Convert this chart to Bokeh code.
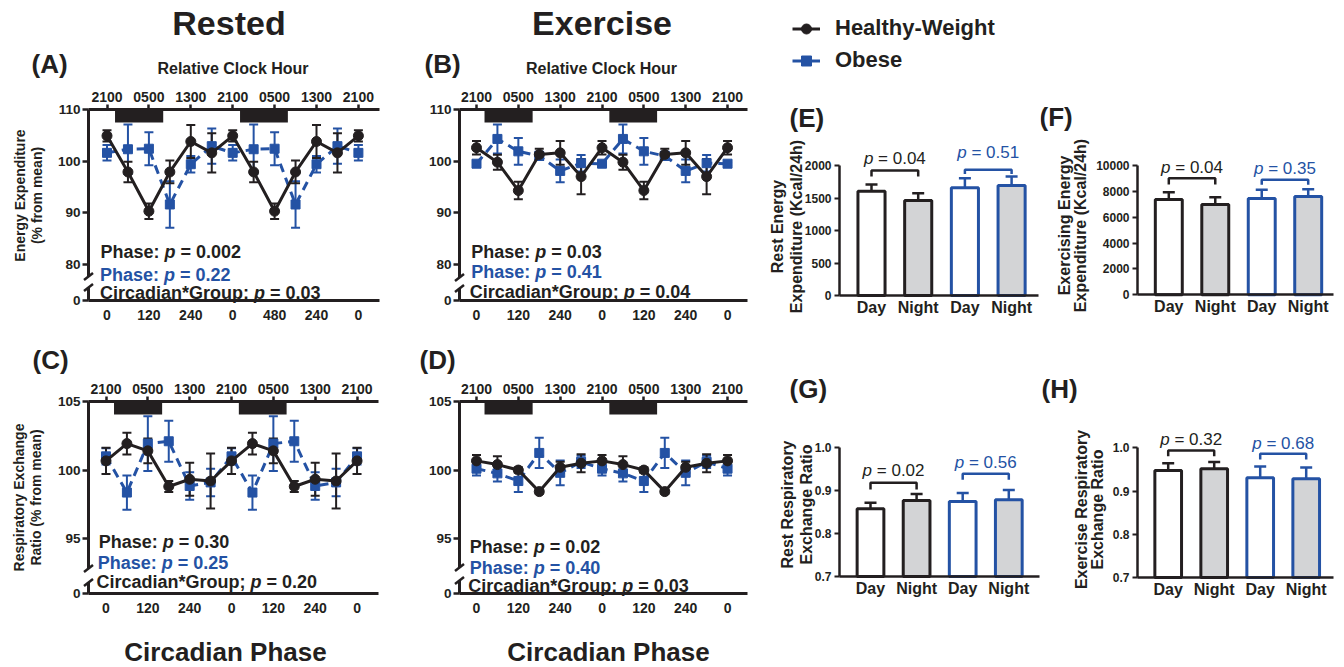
import math
from bokeh.plotting import figure
from bokeh.layouts import row, column
from bokeh.models import (ColumnDataSource, FixedTicker, Range1d, Whisker, TeeHead,
                          Label, Arrow, Legend, LegendItem, LinearAxis, PrintfTickFormatter)
from bokeh.embed import file_html
from bokeh.resources import INLINE

# ---------------- data ----------------
time_min = [0, 60, 120, 180, 240, 300, 360, 420, 480, 540, 600, 660, 720]
phase_ticks = [0, 120, 240, 360, 480, 600, 720]
top_tick_labels = ["2100", "0500", "1300", "2100", "0500", "1300", "2100"]
phase_labels_a = ["0", "120", "240", "0", "480", "240", "0"]
phase_labels = ["0", "120", "240", "0", "120", "240", "0"]
night_start = [23, 381]
night_end = [161, 518]

# (A) rested energy expenditure, % from mean
ee_rest_hw = [104.9, 97.9, 90.3, 97.9, 103.8, 101.6, 104.9, 97.9, 90.3, 97.9, 103.8, 101.6, 104.9]
ee_rest_hw_sem = [1.1, 2.0, 1.5, 2.2, 3.2, 3.8, 1.1, 2.0, 1.5, 2.2, 3.2, 3.8, 1.1]
ee_rest_ob = [101.6, 102.3, 102.4, 91.6, 99.4, 102.9, 101.6, 102.3, 102.4, 91.6, 99.4, 102.9, 101.6]
ee_rest_ob_sem = [1.5, 4.8, 3.2, 4.5, 1.6, 3.4, 1.5, 4.8, 3.2, 4.5, 1.6, 3.4, 1.5]
# (B) exercise energy expenditure
ee_ex_hw = [102.6, 99.8, 94.3, 101.3, 101.6, 97.0, 102.6, 99.8, 94.3, 101.3, 101.6, 97.0, 102.6]
ee_ex_hw_sem = [1.3, 1.45, 1.7, 1.1, 2.3, 3.4, 1.3, 1.45, 1.7, 1.1, 2.3, 3.4, 1.3]
ee_ex_ob = [99.5, 104.3, 101.9, 101.0, 98.1, 99.6, 99.5, 104.3, 101.9, 101.0, 98.1, 99.6, 99.5]
ee_ex_ob_sem = [0.3, 2.8, 2.6, 0.8, 2.2, 1.6, 0.3, 2.8, 2.6, 0.8, 2.2, 1.6, 0.3]
# (C) rested respiratory exchange ratio
rer_rest_hw = [100.67, 101.93, 101.4, 98.8, 99.33, 99.2, 100.67, 101.93, 101.4, 98.8, 99.33, 99.2, 100.67]
rer_rest_hw_sem = [0.96, 0.8, 0.9, 0.4, 1.2, 2.0, 0.96, 0.8, 0.9, 0.4, 1.2, 2.0, 0.96]
rer_rest_ob = [101.0, 98.36, 101.93, 102.1, 98.84, 99.1, 101.0, 98.36, 101.93, 102.1, 98.84, 99.1, 101.0]
rer_rest_ob_sem = [0.6, 1.25, 2.0, 1.5, 1.0, 1.0, 0.6, 1.25, 2.0, 1.5, 1.0, 1.0, 0.6]
# (D) exercise respiratory exchange ratio
rer_ex_hw = [100.67, 100.4, 100.0, 98.43, 100.2, 100.5, 100.67, 100.4, 100.0, 98.43, 100.2, 100.5, 100.67]
rer_ex_hw_sem = [0.42, 0.6, 0.2, 0.15, 0.4, 0.65, 0.42, 0.6, 0.2, 0.15, 0.4, 0.65, 0.42]
rer_ex_ob = [100.1, 99.76, 99.2, 101.25, 99.8, 100.6, 100.1, 99.76, 99.2, 101.25, 99.8, 100.6, 100.1]
rer_ex_ob_sem = [0.5, 0.6, 0.8, 1.1, 0.9, 0.45, 0.5, 0.6, 0.8, 1.1, 0.9, 0.45, 0.5]

# bar panels
conditions = ["Day", "Night", "Day", "Night"]
groups = ["Healthy-Weight", "Healthy-Weight", "Obese", "Obese"]
ree_kcal = [1605, 1462, 1656, 1692]
ree_kcal_sem = [103, 112, 149, 139]
exee_kcal = [7371, 6985, 7448, 7603]
exee_kcal_sem = [567, 567, 670, 567]
rer_rest = [0.858, 0.877, 0.875, 0.879]
rer_rest_sem = [0.014, 0.0155, 0.0195, 0.0225]
rer_ex = [0.9475, 0.9514, 0.9305, 0.9282]
rer_ex_sem = [0.017, 0.016, 0.026, 0.026]

# ---------------- styles ----------------
FONT = "Liberation Sans"
INK = "#231f20"
BLUE = "#2452a4"
GREY = "#d3d4d6"

BOLD_W = {' ': 278, '.': 278, '=': 584, 'p': 611, 'P': 667, 'h': 611, 'a': 556, 's': 556,
          'e': 556, ':': 333, 'C': 722, 'i': 278, 'r': 389, 'c': 556, 'd': 611, 'n': 611,
          '*': 389, 'G': 778, 'o': 611, 'u': 611, ';': 333}
REG_W = {' ': 278, '.': 278, '=': 584, 'p': 556}


def text_w(s, size, bold):
    tbl = BOLD_W if bold else REG_W
    return sum(tbl.get(c, 556) for c in s) * size / 1000.0


def lbl(p, x, y, text, size, color=INK, style="bold", align="left", baseline="middle",
        angle=0.0, xoff=0.0):
    p.add_layout(Label(x=x, y=y, text=text, x_offset=xoff, text_font=FONT,
                       text_font_size=f"{size}px", text_font_style=style, text_color=color,
                       text_align=align, text_baseline=baseline, angle=angle))


def style_axis(ax, size, tick_out=6, tick_w=2.5, line_w=3, standoff=3):
    ax.axis_line_color = INK
    ax.axis_line_width = line_w
    ax.major_tick_line_color = INK
    ax.major_tick_line_width = tick_w
    ax.major_tick_in = 0
    ax.major_tick_out = tick_out
    ax.minor_tick_line_color = None
    ax.major_label_text_font = FONT
    ax.major_label_text_font_style = "bold"
    ax.major_label_text_font_size = f"{size}px"
    ax.major_label_text_color = INK
    ax.major_label_standoff = standoff


def mk_fig(box, fx, fy):
    x0, y0, w, h = box
    p = figure(width=w, height=h, output_backend="svg", toolbar_location=None,
               x_range=Range1d(fx(x0), fx(x0 + w)), y_range=Range1d(fy(y0 + h), fy(y0)),
               x_axis_location=None, y_axis_location=None, min_border=0)
    p.title.visible = False
    p.outline_line_color = None
    p.xgrid.visible = False
    p.ygrid.visible = False
    p.background_fill_color = "white"
    p.border_fill_color = "white"
    return p


def mixed_text(p, x, y, parts, size, color, bold, center=False):
    """parts: list of (text, style); leading spaces are converted to offsets."""
    widths = [text_w(t, size, bold) for t, _ in parts]
    off = -sum(widths) / 2.0 if center else 0.0
    for (t, style), w in zip(parts, widths):
        stripped = t.lstrip(" ")
        lead = text_w(t[:len(t) - len(stripped)], size, bold)
        lbl(p, x, y, stripped, size, color=color, style=style, xoff=off + lead)
        off += w


def phase_panel(cfg, hw, hw_sem, ob, ob_sem, bottom_labels, stats, texts, ylab, brk):
    i0, st = cfg["idx0"], cfg["step"]
    T, Bm = cfg["top"], cfg["bottom"]
    ylo, yhi = cfg["ylo"], cfg["yhi"]
    fx = lambda px: (px - i0) / st * 60.0
    fy = lambda py: yhi - (py - T) * (yhi - ylo) / (Bm - T)
    p = mk_fig(cfg["box"], fx, fy)
    xl, xr = fx(cfg["left"]), fx(cfg["right"])

    # dark (night) periods
    p.quad(left=night_start, right=night_end, bottom=fy(T + 13), top=yhi,
           fill_color=INK, line_color=None)

    yl = LinearAxis(fixed_location=xl, bounds=(ylo, yhi), ticker=FixedTicker(ticks=cfg["yticks"]),
                    major_label_overrides={ylo: "0"})
    style_axis(yl, 13.5, tick_out=6, standoff=2)
    p.add_layout(yl, "left")

    xb = LinearAxis(fixed_location=ylo, bounds=(xl, xr), ticker=FixedTicker(ticks=phase_ticks),
                    major_label_overrides=dict(zip(phase_ticks, bottom_labels)))
    style_axis(xb, 14, tick_out=6, standoff=3)
    xb.major_tick_line_color = None
    p.add_layout(xb, "below")

    xt = LinearAxis(fixed_location=yhi, bounds=(xl, xr), ticker=FixedTicker(ticks=phase_ticks),
                    major_label_overrides=dict(zip(phase_ticks, top_tick_labels)))
    style_axis(xt, 14, tick_out=5, standoff=3)
    p.add_layout(xt, "above")

    for vals, sems, col, marker, dash, size in ((ob, ob_sem, BLUE, "square", "9 6", 9),
                                                (hw, hw_sem, INK, "circle", "solid", 10)):
        src = ColumnDataSource(dict(x=time_min, y=vals,
                                    lo=[v - e for v, e in zip(vals, sems)],
                                    hi=[v + e for v, e in zip(vals, sems)]))
        p.line("x", "y", source=src, line_color=col, line_width=3, line_dash=dash)
        p.scatter("x", "y", source=src, marker=marker, size=size, fill_color=col, line_color=col)
        p.add_layout(Whisker(source=src, base="x", lower="lo", upper="hi", line_color=col,
                             line_width=2,
                             upper_head=TeeHead(size=9, line_color=col, line_width=2),
                             lower_head=TeeHead(size=9, line_color=col, line_width=2)))

    # axis break marks
    ax_x = cfg["left"]
    y1p, y2p = brk
    p.add_layout(Arrow(x_start=xl, y_start=fy(y1p), x_end=xl, y_end=fy(y2p),
                       end=None, line_color="white", line_width=7))
    for yp in (y1p, y2p):
        p.add_layout(Arrow(x_start=fx(ax_x - 4.5), y_start=fy(yp + 3.5), x_end=fx(ax_x + 4.5),
                           y_end=fy(yp - 3.5), end=None, line_color=INK, line_width=2.5))

    # statistics text
    for left_px, y_px, col, prefix, pval in stats:
        mixed_text(p, fx(left_px), fy(y_px),
                   [(prefix, "bold"), ("p", "bold italic"), (" = " + pval, "bold")],
                   18, col, True)

    for text, xp, yp, size, align in texts:
        lbl(p, fx(xp), fy(yp), text, size, align=align)

    for text, xp, yp in ylab:
        lbl(p, fx(xp), fy(yp), text, 14, align="center", angle=math.pi / 2)
    return p


def bar_panel(cfg, vals, sems, brackets, ylab, texts, fmt=None):
    i0, st = cfg["idx0"], cfg["step"]
    ylo = cfg["ylo"]
    bpx = cfg["bottom"]
    rv, rp = cfg["yref"]
    fx = lambda px: (px - i0) / st
    fy = lambda py: ylo + (bpx - py) * (rv - ylo) / (bpx - rp)
    p = mk_fig(cfg["box"], fx, fy)
    xl, xr = fx(cfg["left"]), fx(cfg["right"])

    xs = list(range(len(conditions)))
    fills = ["white" if c == "Day" else GREY for c in conditions]
    lines = [INK if g == "Healthy-Weight" else BLUE for g in groups]
    p.vbar(x=xs, top=vals, bottom=ylo, width=0.58, fill_color=fills, line_color=lines,
           line_width=3)
    for i in xs:
        s = ColumnDataSource(dict(x=[xs[i]], lo=[vals[i]], hi=[vals[i] + sems[i]]))
        p.add_layout(Whisker(source=s, base="x", lower="lo", upper="hi", line_color=lines[i],
                             line_width=2.5, lower_head=None,
                             upper_head=TeeHead(size=12, line_color=lines[i], line_width=2.5)))

    xb = LinearAxis(fixed_location=ylo, bounds=(xl, xr), ticker=FixedTicker(ticks=xs),
                    major_label_overrides=dict(zip(xs, conditions)))
    style_axis(xb, 16, tick_out=0, line_w=2.5, standoff=3)
    xb.major_tick_line_color = None
    p.add_layout(xb, "below")

    yl = LinearAxis(fixed_location=xl, bounds=(ylo, rv), ticker=FixedTicker(ticks=cfg["yticks"]))
    if fmt:
        yl.formatter = PrintfTickFormatter(format=fmt)
    style_axis(yl, 12, tick_out=5, tick_w=2, line_w=2.5, standoff=3)
    p.add_layout(yl, "left")

    for (a, b), col, bar_py, tick_py, pval, text_py in brackets:
        p.line(x=[a, a, b, b], y=[fy(tick_py), fy(bar_py), fy(bar_py), fy(tick_py)],
               line_color=col, line_width=2.5)
        mixed_text(p, (a + b) / 2.0, fy(text_py), [("p", "italic"), (" = " + pval, "normal")],
                   17, col, False, center=True)

    for text, xp, yp in ylab:
        lbl(p, fx(xp), fy(yp), text, 16, align="center", angle=math.pi / 2)
    for text, xp, yp, size, align in texts:
        lbl(p, fx(xp), fy(yp), text, size, align=align)
    return p


cfgA = dict(box=(0, 0, 395, 330), left=88, right=379, idx0=106.5, step=20.95,
            top=109, bottom=300, ylo=73, yhi=110, yticks=[73, 80, 90, 100, 110])
cfgB = dict(box=(395, 0, 365, 330), left=459, right=747, idx0=476, step=20.92,
            top=109, bottom=300, ylo=73, yhi=110, yticks=[73, 80, 90, 100, 110])
cfgC = dict(box=(0, 330, 395, 337), left=88, right=378, idx0=105.5, step=20.92,
            top=401, bottom=593, ylo=91, yhi=105, yticks=[91, 95, 100, 105])
cfgD = dict(box=(395, 330, 365, 337), left=459, right=747, idx0=476, step=20.92,
            top=401, bottom=593, ylo=91, yhi=105, yticks=[91, 95, 100, 105])

pA = phase_panel(cfgA, ee_rest_hw, ee_rest_hw_sem, ee_rest_ob, ee_rest_ob_sem, phase_labels_a,
                 [(100, 251.7, INK, "Phase: ", "0.002"), (99.5, 274, BLUE, "Phase: ", "0.22"),
                  (99.5, 292.7, INK, "Circadian*Group; ", "0.03")],
                 [("(A)", 31, 63, 26, "left"), ("Rested", 228.5, 22, 34, "center"),
                  ("Relative Clock Hour", 232.5, 68, 16, "center")],
                 [("Energy Expenditure", 19, 195), ("(% from mean)", 36, 195)], (276, 287))
pB = phase_panel(cfgB, ee_ex_hw, ee_ex_hw_sem, ee_ex_ob, ee_ex_ob_sem, phase_labels,
                 [(470.7, 251, INK, "Phase: ", "0.03"), (470.7, 271.7, BLUE, "Phase: ", "0.41"),
                  (469.3, 291.7, INK, "Circadian*Group; ", "0.04")],
                 [("(B)", 424, 63, 26, "left"), ("Exercise", 601.5, 22, 34, "center"),
                  ("Relative Clock Hour", 601, 68, 16, "center")],
                 [], (277, 288))
pC = phase_panel(cfgC, rer_rest_hw, rer_rest_hw_sem, rer_rest_ob, rer_rest_ob_sem, phase_labels,
                 [(98.3, 541.7, INK, "Phase: ", "0.30"), (97.3, 562.7, BLUE, "Phase: ", "0.25"),
                  (96, 581.7, INK, "Circadian*Group; ", "0.20")],
                 [("(C)", 32, 359, 26, "left"), ("Circadian Phase", 225, 651, 26, "center")],
                 [("Respiratory Exchange", 18.5, 497), ("Ratio (% from mean)", 35.5, 497)],
                 (568, 582))
pD = phase_panel(cfgD, rer_ex_hw, rer_ex_hw_sem, rer_ex_ob, rer_ex_ob_sem, phase_labels,
                 [(469.3, 546.7, INK, "Phase: ", "0.02"), (469.3, 567.7, BLUE, "Phase: ", "0.40"),
                  (467.7, 585, INK, "Circadian*Group; ", "0.03")],
                 [("(D)", 419, 359, 26, "left"), ("Circadian Phase", 608, 651, 26, "center")],
                 [], (567, 580))

cfgE = dict(box=(760, 0, 280, 330), left=839, right=1038, idx0=871, step=46.7,
            bottom=295, ylo=0, yref=(2000, 165), yticks=[0, 500, 1000, 1500, 2000])
cfgF = dict(box=(1040, 0, 304, 330), left=1137, right=1333, idx0=1168.3, step=46.47,
            bottom=294.3, ylo=0, yref=(10000, 165), yticks=[0, 2000, 4000, 6000, 8000, 10000])
cfgG = dict(box=(760, 330, 280, 337), left=839, right=1039, idx0=870, step=46.1,
            bottom=576, ylo=0.7, yref=(1.0, 447.3), yticks=[0.7, 0.8, 0.9, 1.0])
cfgH = dict(box=(1040, 330, 304, 337), left=1137, right=1333, idx0=1167.7, step=46.0,
            bottom=577, ylo=0.7, yref=(1.0, 447.3), yticks=[0.7, 0.8, 0.9, 1.0])

pE = bar_panel(cfgE, ree_kcal, ree_kcal_sem,
               [((0, 1), INK, 170, 176, "0.04", 158.3),
                ((2, 3), BLUE, 169.3, 173.5, "0.51", 151.7)],
               [("Rest Energy", 776.5, 226), ("Expenditure (Kcal/24h)", 795.5, 226)],
               [("(E)", 789, 117, 26, "left")])
pF = bar_panel(cfgF, exee_kcal, exee_kcal_sem,
               [((0, 1), INK, 177.7, 184, "0.04", 166.7),
                ((2, 3), BLUE, 179.3, 184.3, "0.35", 168.3)],
               [("Exercising Energy", 1063.5, 225), ("Expenditure (Kcal/24h)", 1080, 225)],
               [("(F)", 1039, 116, 26, "left")])
pG = bar_panel(cfgG, rer_rest, rer_rest_sem,
               [((0, 1), INK, 482.3, 489, "0.02", 470),
                ((2, 3), BLUE, 473.3, 479.3, "0.56", 461.7)],
               [("Rest Respiratory", 786.5, 504), ("Exchange Ratio", 806, 504)],
               [("(G)", 789, 388, 26, "left")], fmt="%.1f")
pH = bar_panel(cfgH, rer_ex, rer_ex_sem,
               [((0, 1), INK, 450, 455.7, "0.32", 439.3),
                ((2, 3), BLUE, 453.3, 459, "0.68", 442.7)],
               [("Exercise Respiratory", 1080.5, 509), ("Exchange Ratio", 1096.5, 509)],
               [("(H)", 1041, 388, 26, "left")], fmt="%.1f")

# legend (drawn in panel E); key renderers hold a single NaN point so nothing is plotted
NAN = float("nan")
hw_l = pE.line(x=[NAN], y=[NAN], line_color=INK, line_width=3)
hw_m = pE.scatter(x=[NAN], y=[NAN], marker="circle", size=10, fill_color=INK, line_color=INK)
ob_l = pE.line(x=[NAN], y=[NAN], line_color=BLUE, line_width=3)
ob_m = pE.scatter(x=[NAN], y=[NAN], marker="square", size=9, fill_color=BLUE, line_color=BLUE)
LEG_ITEM_H = 25
LEG_GAP = 6
leg_h = 2 * LEG_ITEM_H + LEG_GAP
legend = Legend(items=[LegendItem(label="Healthy-Weight", renderers=[hw_l, hw_m]),
                       LegendItem(label="Obese", renderers=[ob_l, ob_m])],
                location=(792 - 760, 330 - (17 + leg_h)), glyph_width=28,
                glyph_height=LEG_ITEM_H, label_height=LEG_ITEM_H, label_standoff=15,
                spacing=LEG_GAP, padding=0, margin=0,
                border_line_color=None, background_fill_alpha=0,
                label_text_font=FONT, label_text_font_style="bold",
                label_text_font_size="22px", label_text_color=INK)
pE.add_layout(legend)

layout = column(row(pA, pB, pE, pF), row(pC, pD, pG, pH))
open("out.html", "w").write(file_html(layout, INLINE))
